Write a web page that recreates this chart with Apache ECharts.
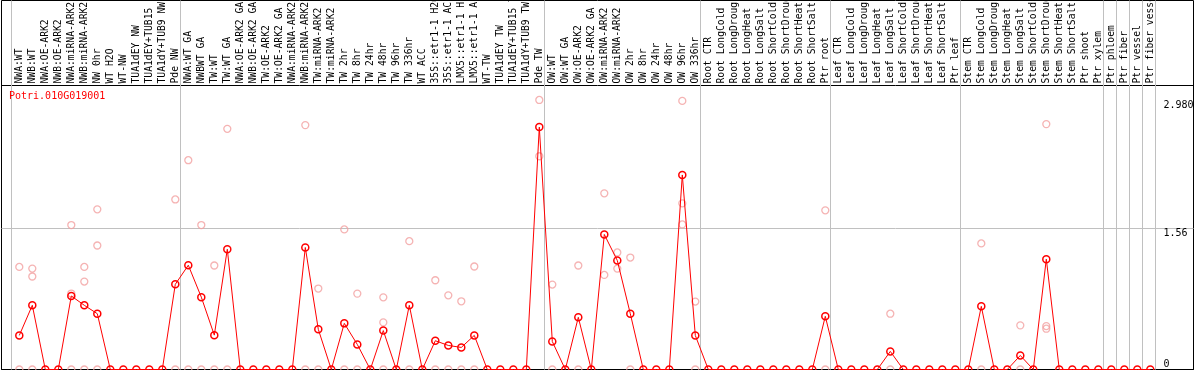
<!DOCTYPE html>
<html>
<head>
<meta charset="utf-8">
<script src="https://cdn.jsdelivr.net/npm/echarts@6/dist/echarts.min.js"></script>
<style>
  html, body { margin: 0; padding: 0; background: #ffffff; }
  #chart { width: 1194px; height: 370px; }
</style>
</head>
<body>
<div id="chart"></div>
<script>
// ---------------- data ----------------
const geneId = 'Potri.010G019001';

const categories = [
  'NWA:WT', 'NWB:WT', 'NWA:OE-ARK2', 'NWB:OE-ARK2', 'NWA:miRNA-ARK2', 'NWB:miRNA-ARK2',
  'NW 0hr', 'WT H2O', 'WT-NW', 'TUA1dEY NW', 'TUA1dEY+TUB15 NW', 'TUA1dY+TUB9 NW', 'Pde NW',
  'NWA:WT GA', 'NWBWT GA', 'TW:WT', 'TW:WT GA', 'NWA:OE-ARK2 GA', 'NWB:OE-ARK2 GA',
  'TW:OE-ARK2', 'TW:OE-ARK2 GA', 'NWA:miRNA-ARK2', 'NWB:miRNA-ARK2', 'TW:miRNA-ARK2', 'TW:miRNA-ARK2',
  'TW 2hr', 'TW 8hr', 'TW 24hr', 'TW 48hr', 'TW 96hr', 'TW 336hr', 'WT ACC',
  '35S::etr1-1 H2O', '35S::etr1-1 ACC', 'LMX5::etr1-1 H2O', 'LMX5::etr1-1 ACC',
  'WT-TW', 'TUA1dEY TW', 'TUA1dEY+TUB15 TW', 'TUA1dY+TUB9 TW', 'Pde TW',
  'OW:WT', 'OW:WT GA', 'OW:OE-ARK2', 'OW:OE-ARK2 GA', 'OW:miRNA-ARK2', 'OW:miRNA-ARK2',
  'OW 2hr', 'OW 8hr', 'OW 24hr', 'OW 48hr', 'OW 96hr', 'OW 336hr',
  'Root CTR', 'Root LongCold', 'Root LongDrought', 'Root LongHeat', 'Root LongSalt',
  'Root ShortCold', 'Root ShortDrought', 'Root ShortHeat', 'Root ShortSalt', 'Ptr root',
  'Leaf CTR', 'Leaf LongCold', 'Leaf LongDrought', 'Leaf LongHeat', 'Leaf LongSalt',
  'Leaf ShortCold', 'Leaf ShortDrought', 'Leaf ShortHeat', 'Leaf ShortSalt', 'Ptr leaf',
  'Stem CTR', 'Stem LongCold', 'Stem LongDrought', 'Stem LongHeat', 'Stem LongSalt',
  'Stem ShortCold', 'Stem ShortDrought', 'Stem ShortHeat', 'Stem ShortSalt', 'Ptr shoot',
  'Ptr xylem', 'Ptr phloem', 'Ptr fiber', 'Ptr vessel', 'Ptr fiber vessel'
];

// mean expression (red line)
const meanExpr = [
  0.377, 0.71, 0, 0, 0.813, 0.71, 0.617, 0, 0, 0, 0, 0, 0.942,
  1.153, 0.80, 0.38, 1.33, 0, 0, 0, 0, 0, 1.349, 0.444, 0, 0.51, 0.277, 0, 0.43, 0,
  0.71, 0, 0.318, 0.266, 0.244, 0.377, 0, 0, 0, 0, 2.68,
  0.31, 0, 0.577, 0, 1.493, 1.205, 0.617, 0, 0, 0, 2.151, 0.377,
  0, 0, 0, 0, 0, 0, 0, 0, 0, 0.588,
  0, 0, 0, 0, 0.2, 0, 0, 0, 0, 0,
  0, 0.698, 0, 0, 0.155, 0, 1.22, 0, 0, 0,
  0, 0, 0, 0, 0
];

// individual replicate values (pink circles)
const replicates = [
  [1.134, 0], [1.116, 1.028, 0], [], [], [1.597, 0.84, 0], [1.134, 0.972, 0], [1.771, 1.371, 0],
  [], [], [], [], [], [1.88, 0],
  [2.314, 0], [1.597, 0], [1.15, 0], [2.661, 0], [], [], [], [], [], [2.702, 0], [0.895, 0], [],
  [1.549, 0], [0.839, 0], [], [0.798, 0.521, 0], [], [1.419, 0], [], [0.987, 0], [0.82, 0],
  [0.754, 0], [1.139, 0], [], [], [], [], [2.98, 2.358],
  [0.939, 0], [], [1.15, 0], [], [1.948, 1.046], [1.294, 1.116], [1.238, 0], [], [], [],
  [2.97, 1.837, 1.604], [0.751, 0],
  [], [], [], [], [], [], [], [], [], [1.76, 0],
  [], [], [], [], [0.617, 0], [], [], [], [], [],
  [], [1.394, 0], [], [], [0.488, 0], [], [2.713, 0.48, 0.451], [], [], [],
  [], [], [], [], []
];

// last column index of each separated group (-1 = left edge)
const groupEnds = [-1, 12, 40, 52, 62, 72, 83, 84, 85, 86, 87];

const yTickValues = [0, 1.56, 2.98];
const yTickLabels = ['0', '1.56', '2.980'];
const yMax = 3.14;

// ---------------- layout constants ----------------
const PLOT_LEFT = 1.5, PLOT_WIDTH = 1192;
const COL = 13;            // px per column
const FIRST_X = 19.3;      // px centre of first column
const xMin = -(FIRST_X - PLOT_LEFT) / COL;
const xMax = xMin + PLOT_WIDTH / COL;
const SEP_OFFSET = 0.4;    // separator position after a column (fraction of column)
const MONO = 'DejaVu Sans Mono';

const lineData = meanExpr.map((v, i) => [i, v]);
const repData = [];
replicates.forEach((arr, i) => arr.forEach(v => repData.push([i, v])));

const chart = echarts.init(document.getElementById('chart'), null, { renderer: 'canvas' });

chart.setOption({
  animation: false,
  backgroundColor: '#ffffff',
  title: {
    text: geneId,
    left: 9,
    top: 91,
    padding: 0,
    textStyle: { color: '#ff0000', fontFamily: MONO, fontSize: 10, fontWeight: 'normal' }
  },
  grid: [
    { left: PLOT_LEFT, top: 0.5, width: PLOT_WIDTH, height: 369, show: true,
      outerBoundsMode: 'none', containLabel: false,
      borderColor: '#000000', borderWidth: 1, backgroundColor: 'transparent' },
    { left: PLOT_LEFT, top: 85.5, width: PLOT_WIDTH, height: 284, show: true,
      outerBoundsMode: 'none', containLabel: false,
      borderColor: '#000000', borderWidth: 1, backgroundColor: 'transparent' },
    { left: FIRST_X - COL / 2, top: 85.5, width: COL * categories.length, height: 284,
      outerBoundsMode: 'none', containLabel: false }
  ],
  xAxis: [
    { type: 'value', gridIndex: 0, min: xMin, max: xMax, show: false },
    { type: 'value', gridIndex: 1, min: xMin, max: xMax, show: false },
    { type: 'category', gridIndex: 2, position: 'top', data: categories, boundaryGap: true,
      axisLine: { show: false }, axisTick: { show: false }, splitLine: { show: false },
      axisLabel: { interval: 0, rotate: 90, margin: 2, color: '#000000',
        fontFamily: MONO, fontSize: 9.7 } }
  ],
  yAxis: [
    { type: 'value', gridIndex: 0, min: 0, max: 1, show: false },
    { type: 'value', gridIndex: 1, min: 0, max: yMax, position: 'right',
      axisLine: { show: false }, axisTick: { show: false }, splitLine: { show: false },
      axisLabel: { inside: true, margin: 30, align: 'left', verticalAlign: 'top',
        color: '#000000', fontFamily: MONO, fontSize: 10,
        customValues: yTickValues.slice(1),
        formatter: v => yTickLabels[yTickValues.indexOf(v)] } },
    { type: 'value', gridIndex: 1, min: 0, max: yMax, position: 'right',
      axisLine: { show: false }, axisTick: { show: false }, splitLine: { show: false },
      axisLabel: { inside: true, margin: 30, align: 'left', verticalAlign: 'bottom',
        color: '#000000', fontFamily: MONO, fontSize: 10,
        customValues: yTickValues.slice(0, 1),
        formatter: v => yTickLabels[yTickValues.indexOf(v)] } },
    { type: 'value', gridIndex: 2, min: 0, max: 1, show: false }
  ],
  series: [
    { // group separators through the whole figure
      type: 'line', xAxisIndex: 0, yAxisIndex: 0, data: [], z: 0, silent: true,
      markLine: { z: 0, silent: true, symbol: 'none', label: { show: false },
        lineStyle: { color: '#c0c0c0', type: 'solid', width: 1 },
        data: groupEnds.map(n => ({ xAxis: n + SEP_OFFSET })) }
    },
    { // horizontal reference line
      type: 'line', xAxisIndex: 1, yAxisIndex: 1, data: [], z: 0, silent: true,
      markLine: { z: 0, silent: true, symbol: 'none', label: { show: false },
        lineStyle: { color: '#c0c0c0', type: 'solid', width: 1 },
        data: [{ yAxis: yTickValues[1] }] }
    },
    { // replicates
      type: 'scatter', xAxisIndex: 1, yAxisIndex: 1, data: repData, z: 2,
      symbol: 'circle', symbolSize: 7,
      itemStyle: { color: 'rgba(0,0,0,0)', borderColor: '#f2a0a0', borderWidth: 1.3 }
    },
    { // mean
      type: 'line', xAxisIndex: 1, yAxisIndex: 1, data: lineData, z: 3,
      symbol: 'circle', symbolSize: 7, showAllSymbol: true,
      lineStyle: { color: '#ff0000', width: 1 },
      itemStyle: { color: 'rgba(0,0,0,0)', borderColor: '#ff0000', borderWidth: 1.5 }
    }
  ]
});
</script>
</body>
</html>
